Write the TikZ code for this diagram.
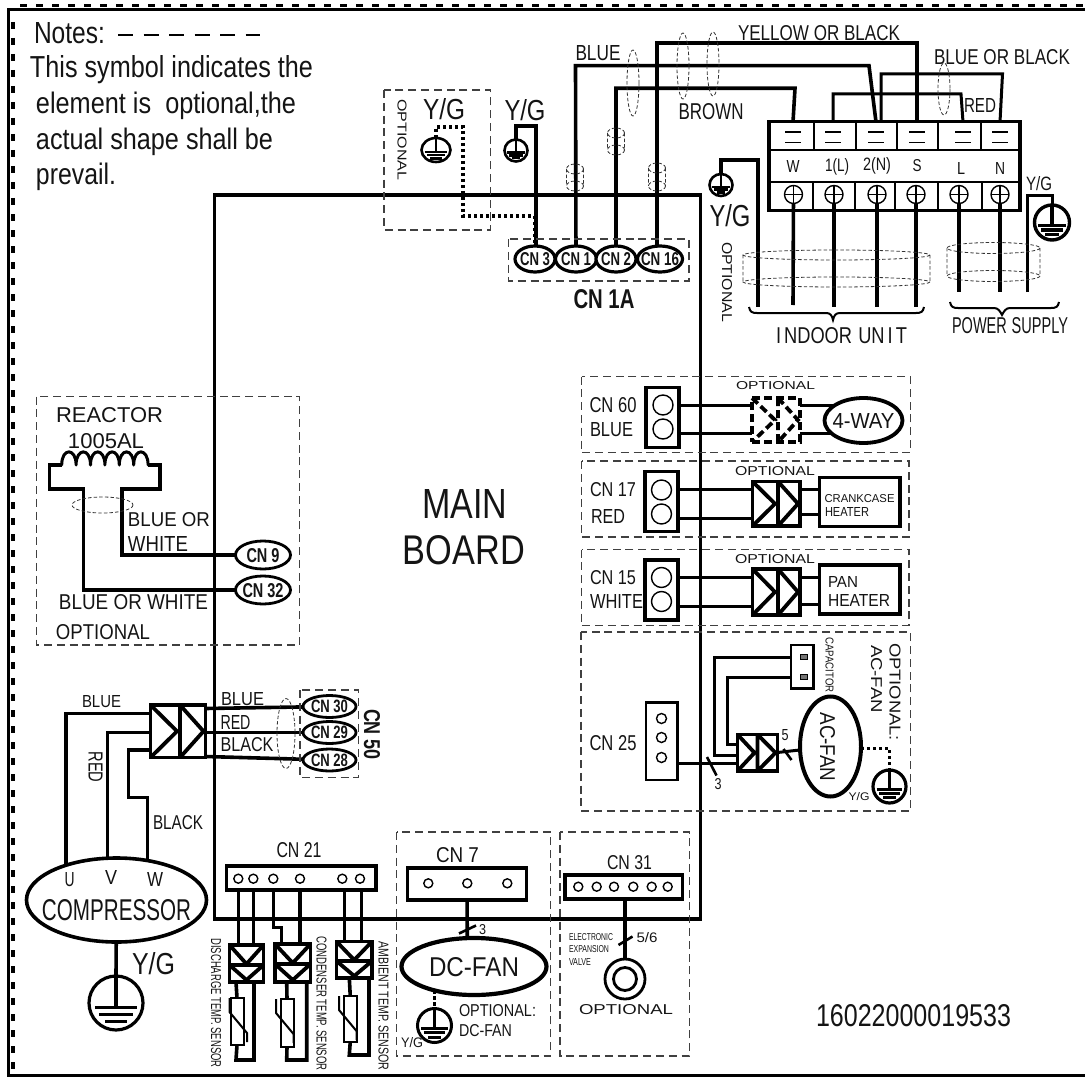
\documentclass[tikz,border=0pt]{standalone}
\usepackage{fontspec}
\usepackage{graphicx}
\setmainfont{Liberation Sans}
\usetikzlibrary{shapes.geometric,backgrounds}
\newlength\pxu \setlength\pxu{.75pt}
\tikzset{
  lwd/.style={line width=#1*.75pt},
  txt/.style={inner sep=0pt,outer sep=0pt,text=black!92},
  wire/.style={lwd=3.6,line join=miter},
  wirethin/.style={lwd=3,line join=miter},
  dbox/.style={lwd=1.1,black!75,dash pattern=on 6pt off 3.6pt},
  tie/.style={lwd=.8,black!80,dash pattern=on 2.6pt off 1.6pt},
  blockbox/.style={rectangle,draw,fill=white,lwd=3.8,inner sep=0pt,outer sep=0pt},
  hole/.style={circle,draw,fill=white,lwd=1.4,inner sep=0pt,outer sep=0pt},
  dashconn/.style={dash pattern=on 6pt off 3pt},
  optdash/.style={lwd=3.6,dash pattern=on 2.5pt off 2pt},
}
% text node forced to the measured width and height
\newcommand\TX[7][]{\node[txt,#1] (#2) at (#3,#4) {\resizebox{#5\pxu}{#6\pxu}{#7}};}
% ellipse node with a text that does not influence its size
\newcommand\CE[9][]{\node[ellipse,draw,fill=white,inner sep=0pt,outer sep=0pt,lwd=3.2,
   minimum width={2*#5*.75pt},minimum height={2*#6*.75pt},text=black!92,#1] (#2) at (#3,#4)
   {\makebox[0pt]{\raisebox{-0.5\height}[0pt][0pt]{\resizebox{#7\pxu}{#8\pxu}{#9}}}};}
% block with corners given in pixels
\newcommand\BX[6][]{\node[blockbox,minimum width={(#5-#3)*.75pt},minimum height={(#6-#4)*.75pt},#1]
   (#2) at ({(#3+#5)/2},{(#4+#6)/2}) {};}
% earth symbol
\newcommand\GND[6]{\node[ellipse,draw,fill=white,inner sep=0pt,outer sep=0pt,lwd=#6,
   minimum width={2*#4*.75pt},minimum height={2*#5*.75pt}] (#1) at (#2,#3) {};
   \begin{scope}[shift={(#2,#3)},xscale=#4,yscale=#5,lwd=#6]
   \draw (0,-1) -- (0,.17);
   \draw (-.78,.17) -- (.78,.17) (-.63,.43) -- (.63,.43) (-.39,.69) -- (.39,.69);
   \end{scope}}
% double chevron connector pointing right: name x0 y0 x1 y1 xm
\newcommand\CONH[7][]{\BX[#1]{#2}{#3}{#4}{#5}{#6}
   \draw[lwd=3.8,#1] (#3,#4) -- (#7-3,{(#4+#6)/2}) -- (#3,#6) (#7,#4) -- (#5-2,{(#4+#6)/2}) -- (#7,#6) (#7,#4) -- (#7,#6);}
% double chevron connector pointing down: name x0 y0 x1 y1 ym
\newcommand\CONV[6]{\BX{#1}{#2}{#3}{#4}{#5}
   \draw[lwd=3.8] (#2,#3) -- ({(#2+#4)/2},#6-1) -- (#4,#3) (#2,#6) -- ({(#2+#4)/2},#5-2) -- (#4,#6) (#2,#6) -- (#4,#6);}
% dashed cable sleeve
\newcommand\CYL[5]{\draw[tie] (#1,#2) circle [x radius=#4,y radius=#5] (#1,#3) circle [x radius=#4,y radius=#5]
   (#1-#4,#2) -- (#1-#4,#3) (#1+#4,#2) -- (#1+#4,#3);}
% thermistor
\newcommand\THERM[6]{\BX[lwd=2]{#1}{#2}{#3}{#4}{#5}
   \draw[lwd=2] (#6,#3) -- (#6,#3+14) -- (#6+17.5,#3+35) -- (#6+17.5,#3+44);}
\begin{document}
\begin{tikzpicture}[x=.75pt,y=-.75pt]
\useasboundingbox (0,0) rectangle (1085,1077);
% frame
\draw[lwd=3] (1085,9.5) -- (8.5,9.5) -- (8.5,1075.5) -- (1085,1075.5);
\draw[lwd=3.5,dash pattern=on 5.25pt off 6.75pt] (20,5.5) -- (1085,5.5);
\draw[lwd=4,dash pattern=on 5.25pt off 6.75pt] (13,22) -- (13,1072);
% dashed option boxes
\draw[dbox] (384,90) rectangle (490.5,230);
\draw[dbox] (508.5,239) rectangle (689,281);
\draw[dbox] (36.5,396.5) rectangle (299.5,645);
\draw[dbox] (300,690) rectangle (358.5,777.5);
\draw[dbox] (581.5,376.5) rectangle (910.5,452.5);
\draw[dbox] (581.5,461) rectangle (909,537);
\draw[dbox] (581.5,549.5) rectangle (909,625.5);
\draw[dbox] (581,632) rectangle (910.5,811);
\draw[dbox] (396.5,832) rectangle (550.5,1056);
\draw[dbox] (560,832) rectangle (689.5,1056);
% notes
\TX[anchor=base west]{n1}{34}{43.5}{71}{21}{Notes:}
\TX[anchor=base west]{n2}{30}{78}{283}{22}{This symbol indicates the}
\TX[anchor=base west]{n3}{36}{114}{260}{21.5}{element is~~optional,the}
\TX[anchor=base west]{n4}{36}{149.5}{237}{21.5}{actual shape shall be}
\TX[anchor=base west]{n5}{36}{185}{80}{21.5}{prevail.}
\draw[lwd=2.8,dash pattern=on 11.25pt off 7.9pt] (118,35) -- (260,35);
% connectors CN 1A
\CE{cn3}{535}{259}{20}{13}{30}{13}{\bfseries CN 3}
\CE{cn1}{576}{259}{20.5}{13}{30}{13}{\bfseries CN 1}
\CE{cn2}{616}{259}{20}{13}{30}{13}{\bfseries CN 2}
\CE{cn16}{660}{259}{22.5}{13}{38}{13}{\bfseries CN 16}
\TX{cn1a}{604}{299.5}{61}{19}{\bfseries CN 1A}
% earths at the top
\GND{g1}{436}{150}{14.5}{12}{2.6}
\GND{g2}{516}{150.5}{11.5}{11}{2.6}
\TX{yg1}{444}{109.5}{42}{21}{Y/G}
\TX{yg2}{525}{110}{41}{21}{Y/G}
\TX[rotate=-90]{op1}{402}{140}{81}{9}{OPTIONAL}
\coordinate (g1corner) at (463,127);
\coordinate (g2corner) at (536,126);
\GND{g3}{721}{185}{11.5}{11}{2.6}
\TX{yg3}{730}{216}{41}{22}{Y/G}
\TX[rotate=-90]{op2}{727}{282}{80}{10}{OPTIONAL}
\GND{g4}{1052}{222.5}{17.5}{17.5}{3.4}
\TX{yg4}{1039}{184}{26}{14}{Y/G}
% terminal block
\node[rectangle,draw,lwd=3.8,inner sep=0pt,outer sep=0pt,minimum width=251*.75pt,minimum height=89*.75pt] (tb) at (894.5,166) {};
\draw[lwd=1.4] (769,150) -- (1020,150) (769,182) -- (1020,182);
\foreach \u/\v in {814/813,856/855,897/895,938/938,981/982}{\draw[lwd=1.4] (\u,122) -- (\u,150) (\v,182) -- (\v,210);}
\foreach \i/\u in {1/793,2/833,3/876,4/917,5/963,6/1000}{
  \coordinate (t\i) at (\u,122);
  \draw[lwd=1.2] (\u-8,132) -- (\u+8,132) (\u-8,142.5) -- (\u+8,142.5);}
\foreach \i/\u in {1/793.5,2/834,3/877,4/916,5/959,6/1000}{
  \node[hole,minimum size=18*.75pt] (s\i) at (\u,194.5) {};
  \draw[lwd=1.2] (\u-9,194.5) -- (\u+9,194.5) (\u,185.5) -- (\u,203.5);}
\TX{tw}{793}{167}{13}{12}{W}
\TX{tl}{837}{167}{24}{13}{1(L)}
\TX{tn}{877}{166}{28}{13}{2(N)}
\TX{ts}{917}{166}{9}{12}{S}
\TX{tll}{961}{169}{8}{12}{L}
\TX{tnn}{1000}{169}{10}{12}{N}
\foreach \i/\u/\v in {1/793/305,2/834/307,3/877/307,4/916/307,5/959/292,6/1000/292}{\coordinate (e\i) at (\u,\v);}
\coordinate (e0) at (758,307);
\coordinate (e7) at (1027.5,292);
% top labels
\TX{lb1}{819}{33.5}{162}{15}{YELLOW OR BLACK}
\TX{lb2}{1002}{57.5}{136}{15}{BLUE OR BLACK}
\TX{lb3}{980}{105.5}{32}{14}{RED}
\TX{lb4}{598}{53}{45}{15}{BLUE}
\TX{lb5}{711}{112}{65}{16}{BROWN}
\TX{lb6}{841.5}{336}{131}{16}{I\,NDOOR\,\,UN\,I\,T}
\TX{lb7}{1010}{326}{116}{16}{POWER\,\,SUPPLY}
% braces and sleeves
\draw[lwd=2] (749,307) .. controls (750,312) and (752,313) .. (757,313) -- (826,313) .. controls (830,313) and (832,315) .. (833,320) .. controls (834,315) and (836,313) .. (840,313) -- (916,313) .. controls (921,313) and (923,312) .. (924,307);
\draw[lwd=2] (950,302) .. controls (951,307) and (953,308) .. (958,308) -- (994,308) .. controls (998,308) and (1000,311) .. (1002,315) .. controls (1004,311) and (1006,308) .. (1010,308) -- (1051,308) .. controls (1056,308) and (1058,307) .. (1059,302);
\CYL{836.5}{255}{282}{93.5}{5}
\CYL{993.5}{248}{276}{46.5}{5.5}
\CYL{616}{133}{150}{8.5}{5}
\CYL{575}{169}{186}{8.5}{5}
\CYL{657}{168}{186}{8.5}{5}
\draw[tie] (633,83) circle [x radius=6,y radius=33] (683,66) circle [x radius=6,y radius=33]
  (713,64) circle [x radius=6,y radius=32] (944,89) circle [x radius=6,y radius=26];
% main board text
\TX{mb1}{464.5}{503.5}{85}{29}{MAIN}
\TX{mb2}{464}{550.5}{122}{29}{BOARD}
% CN 60 group
\BX[lwd=3.2]{b60}{646}{387.5}{679}{447.5}
\node[hole,minimum size=20*.75pt] (h60a) at (663,405) {};
\node[hole,minimum size=20*.75pt] (h60b) at (663,429) {};
\coordinate (p60a) at (679,405); \coordinate (p60b) at (679,433);
\TX{l60a}{613}{405.5}{47}{15}{CN 60}
\TX{l60b}{611.5}{430}{43}{14}{BLUE}
\CONH[dashconn]{k60}{752}{398}{800}{442}{778}
\TX{op60}{775.5}{386}{79}{8}{OPTIONAL}
\CE[lwd=3.8]{way}{863.5}{420.5}{39}{22.5}{62}{15}{4-WAY}
% CN 17 group
\BX[lwd=3.2]{b17}{645}{471.5}{678}{531.5}
\node[hole,minimum size=20*.75pt] (h17a) at (661.5,490) {};
\node[hole,minimum size=20*.75pt] (h17b) at (661.5,514) {};
\coordinate (p17a) at (678,489.5); \coordinate (p17b) at (678,518);
\TX{l17a}{613}{490}{46}{14}{CN 17}
\TX{l17b}{608}{516}{34}{14}{RED}
\CONH{k17}{752.5}{481.5}{800}{526}{778}
\TX{op17}{775}{471.5}{80}{9}{OPTIONAL}
\BX{cc}{819.5}{477.5}{900}{526.5}
\TX{cc1}{859.5}{499}{70}{8}{CRANKCASE}
\TX{cc2}{847}{511.5}{44}{9}{HEATER}
% CN 15 group
\BX[lwd=3.2]{b15}{645}{560}{678}{620}
\node[hole,minimum size=20*.75pt] (h15a) at (661.5,577.5) {};
\node[hole,minimum size=20*.75pt] (h15b) at (661.5,601.5) {};
\coordinate (p15a) at (678,577.5); \coordinate (p15b) at (678,606);
\TX{l15a}{613}{578}{46}{14}{CN 15}
\TX{l15b}{616.5}{601}{53}{14}{WHITE}
\CONH{k15}{752.5}{569}{800}{615}{778}
\TX{op15}{775}{559.5}{80}{9}{OPTIONAL}
\BX{pan}{819.5}{565}{900}{614}
\TX{pan1}{843}{582}{30}{11}{PAN}
\TX{pan2}{859}{600}{62}{12}{HEATER}
% CN 25 group
\BX[lwd=2.8]{b25}{646}{702.5}{677.5}{780}
\node[hole,minimum size=10*.75pt] (h25a) at (661.5,718.5) {};
\node[hole,minimum size=10*.75pt] (h25b) at (661.5,737.5) {};
\node[hole,minimum size=10*.75pt] (h25c) at (661.5,757.5) {};
\TX{l25}{613}{743}{47}{15}{CN 25}
\CONH{k25}{737.5}{734.5}{777.5}{771}{757.5}
\coordinate (p25) at (677.5,763.5);
\coordinate (acin) at (800,752.5);
\TX{n3a}{718}{784}{7}{11}{3}
\TX{n5a}{785}{735.5}{7}{11}{5}
\BX[lwd=2.8]{capb}{791}{645}{813.5}{688.5}
\node[rectangle,draw,fill=black!55,lwd=1,inner sep=0pt,minimum width=7*.75pt,minimum height=5*.75pt] (pin1) at (803.5,657) {};
\node[rectangle,draw,fill=black!55,lwd=1,inner sep=0pt,minimum width=7*.75pt,minimum height=5*.75pt] (pin2) at (803.5,677) {};
\TX[rotate=-90]{capt}{829.5}{665}{55}{8}{CAPACITOR}
\node[ellipse,draw,fill=white,inner sep=0pt,outer sep=0pt,lwd=4,minimum width=61*.75pt,minimum height=100*.75pt] (acf) at (830.5,746.5) {};
\TX[rotate=-90]{acft}{827.5}{747}{69}{15}{AC-FAN}
\TX[rotate=-90]{op25}{895}{692}{98}{11}{OPTIONAL:}
\TX[rotate=-90]{op25b}{876.5}{679}{68}{11}{AC-FAN}
\GND{g5}{889.5}{786.5}{16.5}{16.5}{3.2}
\TX{yg5}{859}{797}{21}{8}{Y/G}
% reactor
\TX{rc1}{109.5}{415.5}{107}{15}{REACTOR}
\TX{rc2}{106}{441.5}{76}{15}{1005AL}
\TX{rc3}{169}{520}{82}{14}{BLUE OR}
\TX{rc4}{158}{543.5}{60}{15}{WHITE}
\TX{rc5}{133.5}{602.5}{149}{15}{BLUE OR WHITE}
\TX{rc6}{103}{632.5}{94}{15}{OPTIONAL}
\draw[lwd=3,line join=round,line cap=round] (61.7,465)
  \foreach \k in {1,...,6}{.. controls +(0,-17.5) and +(0,-17.5) .. +(14.4,0)  ++(14.4,0)};
\coordinate (coilL) at (61.7,465); \coordinate (coilR) at (148.3,465);
\draw[tie] (102.5,505) circle [x radius=30.5,y radius=8];
\CE[lwd=2.8]{cn9}{263}{555}{27.5}{14}{33}{14}{\bfseries CN 9}
\CE[lwd=2.8]{cn32}{263}{590}{27.5}{14}{41}{14}{\bfseries CN 32}
% compressor group
\CONH{kc}{150.5}{705}{205.5}{757.5}{180}
\TX{cb1}{101.5}{702}{39}{12}{BLUE}
\TX[rotate=-90]{cb2}{95.5}{767}{31}{14}{RED}
\TX{cb3}{178}{823}{50}{14}{BLACK}
\TX{cb4}{242.5}{699}{43}{13}{BLUE}
\TX{cb5}{235.5}{722}{30}{14}{RED}
\TX{cb6}{247}{745}{53}{14}{BLACK}
\draw[tie] (286,733.5) circle [x radius=9,y radius=35];
\CE[lwd=2.8]{cn30}{329.5}{706.5}{26.5}{11}{37}{12.5}{\bfseries CN 30}
\CE[lwd=2.8]{cn29}{329.5}{732.5}{26.5}{11}{37}{12.5}{\bfseries CN 29}
\CE[lwd=2.8]{cn28}{329.5}{760}{26.5}{11}{37}{12.5}{\bfseries CN 28}
\TX[rotate=-90]{cn50}{372}{734.5}{51}{16}{\bfseries CN 50}
\node[ellipse,draw,fill=white,inner sep=0pt,outer sep=0pt,lwd=3.6,minimum width=180*.75pt,minimum height=84*.75pt] (comp) at (116.5,900) {};
\TX{cu}{69.5}{879.5}{10}{14}{U}
\TX{cv}{111}{877}{12}{14}{V}
\TX{cw}{155}{879}{16}{14}{W}
\TX{compt}{116.5}{910}{149}{21}{COMPRESSOR}
\GND{g6}{116}{1003}{27}{27}{3.2}
\TX{yg6}{153.5}{964}{43}{22}{Y/G}
% CN 21 group
\TX{l21}{299}{850}{45}{15}{CN 21}
\BX[lwd=3.2]{b21}{226.5}{866}{376}{890}
\foreach \u in {238.3,253.3,273.3,300,342.3,360}{\node[hole,minimum size=9*.75pt] at (\u,878.7) {};}
\CONV{sk1}{229.5}{945}{263.5}{982}{965}
\CONV{sk2}{275}{944}{310.5}{982}{964}
\CONV{sk3}{336.5}{941.5}{372}{978}{961}
\THERM{r1}{230.5}{998}{243.5}{1045}{229.5}
\THERM{r2}{280.5}{999}{293.5}{1047}{276}
\THERM{r3}{344}{996}{356.5}{1042}{339}
\TX[rotate=-90]{sn1}{216}{1003}{129}{10}{DISCHARGE TEMP. SENSOR}
\TX[rotate=-90]{sn2}{321.5}{1003.5}{134}{10}{CONDENSER TEMP. SENSOR}
\TX[rotate=-90]{sn3}{383.5}{1006}{129}{10}{AMBIENT TEMP. SENSOR}
% CN 7 group
\TX{l7}{457.5}{855}{43}{15}{CN 7}
\BX[lwd=3.2]{b7}{407.5}{868}{526.5}{900}
\foreach \u in {428.3,467.3,507.3}{\node[hole,minimum size=9*.75pt] at (\u,883.3) {};}
\TX{n3b}{482.5}{929.5}{7}{10}{3}
\CE[lwd=4.2]{dc}{474}{966.5}{72.5}{28.5}{90}{19}{DC-FAN}
\GND{g7}{434.5}{1025.5}{17}{17}{3}
\TX{yg7}{412}{1043}{22}{10}{Y/G}
\TX{op7}{497.5}{1011}{77}{12}{OPTIONAL:}
\TX{op7b}{485.5}{1031}{53}{12}{DC-FAN}
% CN 31 group
\TX{l31}{629.5}{863}{45}{14}{CN 31}
\BX[lwd=3.2]{b31}{565}{875}{682.5}{899}
\foreach \u in {578.3,596.7,614,633.3,651.7,667.7}{\node[hole,minimum size=9*.75pt] at (\u,886.7) {};}
\node[circle,draw,fill=white,inner sep=0pt,outer sep=0pt,lwd=2.8,minimum size=40*.75pt] (valve) at (625,979) {};
\node[circle,draw,inner sep=0pt,outer sep=0pt,lwd=2.8,minimum size=23*.75pt] (valvein) at (625,979) {};
\TX{l56}{647}{938}{21}{10}{5/6}
\TX{ev1}{591}{937}{44}{7}{ELECTRONIC}
\TX{ev2}{589}{949.5}{40}{7}{EXPANSION}
\TX{ev3}{580}{961.5}{22}{7}{VALVE}
\TX{op31}{626}{1010}{94}{10}{OPTIONAL}
\TX{serial}{913.5}{1016}{195}{22}{16022000019533}
% wires and the board go under the filled shapes
\begin{scope}[on background layer]
  \draw[lwd=3.8] (214.5,195) -- (700.5,195) -- (700.5,919) -- (214.5,919) -- cycle;
  \draw[optdash] (g1.north) -- (g1.north |- g1corner) -- (g1corner) -- (463,216) -- (cn3.north |- 0,216) ;
  \draw[optdash] (cn3.north |- 0,216) -- (cn3.north);
  \draw[wire] (g2.north) -- (g2.north |- g2corner) -- (g2corner) -- (g2corner |- cn3.north);
  \draw[wire] (cn1) -- (575.5,65.7) -- (869,65.7) -- (t3);
  \draw[wire] (cn2) -- (616,88.3) -- (795,88.3) -- (t1);
  \draw[wire] (657,259) -- (657,43) -- (917,43) -- (t4);
  \draw[wirethin] (t2) -- (833,94) -- (961,94) -- (t5);
  \draw[wirethin] (881,122) -- (881,74) -- (1002.5,74) -- (t6);
  \draw[wire] (g3.north) -- (721,160) -- (758,160) -- (e0);
  \foreach \i in {1,...,6}{\draw[wire] (s\i) -- (e\i);}
  \draw[wirethin] (e7) -- (1027.5,196) -- (1052,196) -- (g4.north);
  % option rows
  \draw[wirethin] (p60a) -- (k60.west |- p60a);
  \draw[wirethin] (p60b) -- (k60.west |- p60b);
  \draw[wirethin] (k60.east |- p60a) -- (way.center |- p60a);
  \draw[wirethin] (k60.east |- p60b) -- (way.center |- p60b);
  \draw[wirethin] (p17a) -- (k17.west |- p17a);
  \draw[wirethin] (p17b) -- (k17.west |- p17b);
  \draw[wirethin] (k17.east |- 0,489) -- (cc.west |- 0,489);
  \draw[wirethin] (k17.east |- 0,514) -- (cc.west |- 0,514);
  \draw[wirethin] (p15a) -- (k15.west |- p15a);
  \draw[wirethin] (p15b) -- (k15.west |- p15b);
  \draw[wirethin] (k15.east |- 0,577) -- (pan.west |- 0,577);
  \draw[wirethin] (k15.east |- 0,604) -- (pan.west |- 0,604);
  % CN 25
  \draw[wirethin] (p25) -- (k25.west |- p25);
  \draw[wirethin] (k25.east |- acin) -- (acf);
  \draw[wirethin] (k25.west |- 0,755) -- (714,755) -- (714,657) -- (pin1);
  \draw[wirethin] (k25.west |- 0,744) -- (727.5,744) -- (727.5,677) -- (pin2);
  \draw[optdash] (acf.east |- 0,748.5) -- (889.5,748.5) -- (g5.north);
  % reactor
  \draw[wire] (coilL) -- (49.5,465) -- (49.5,489) -- (83.5,489) -- (83.5,590) -- (cn32);
  \draw[wire] (coilR) -- (160,465) -- (160,489) -- (121.7,489) -- (121.7,555) -- (cn9);
  % compressor
  \draw[wire] (kc.west |- 0,713.5) -- (66,713.5) -- (66,880);
  \draw[wire] (kc.west |- 0,732.5) -- (107.5,732.5) -- (107.5,880);
  \draw[wire] (kc.west |- 0,750) -- (128.5,750) -- (128.5,797.5) -- (147.5,797.5) -- (147.5,880);
  \draw[wire] (kc.east |- 0,708.5) -- (cn30);
  \draw[wire] (kc.east |- 0,732.5) -- (cn29);
  \draw[wire] (kc.east |- 0,756.5) -- (cn28);
  \draw[wire] (comp) -- (g6.north);
  % CN 21
  \draw[lwd=3.6] (238.3,890) -- (238.3,945) (253.3,890) -- (253.3,945);
  \draw[lwd=2.8] (273.3,890) -- (273.3,927.5) -- (281.5,927.5) -- (281.5,945);
  \draw[lwd=3.6] (300,890) -- (300,945) (344.3,890) -- (344.3,942) (361.5,890) -- (361.5,942);
  \draw[wire] (236,982) -- (r1.north) (r1.south) -- (236,1060) -- (254,1060) -- (254,982);
  \draw[wire] (286.7,982) -- (r2.north) (r2.south) -- (286.7,1060) -- (306.7,1060) -- (306.7,982);
  \draw[wire] (349.3,978) -- (r3.north) (r3.south) -- (349.3,1055) -- (369,1055) -- (369,978);
  % fans
  \draw[wire] (b7) -- (467.3,945);
  \draw[lwd=2.6] (459,933.5) -- (476,925.5);
  \draw[lwd=2.4,dash pattern=on 3pt off 1.5pt] (434.5,990) -- (g7.north);
  \draw[wire] (b31.south -| valve) -- (valve);
  \draw[lwd=2.6] (618.5,945) -- (632.5,936.5);
  \draw[lwd=2.6] (707,757) -- (716.5,775.5);
  \draw[lwd=2.6] (783.5,749) -- (791.5,760);
\end{scope}
\end{tikzpicture}
\end{document}
